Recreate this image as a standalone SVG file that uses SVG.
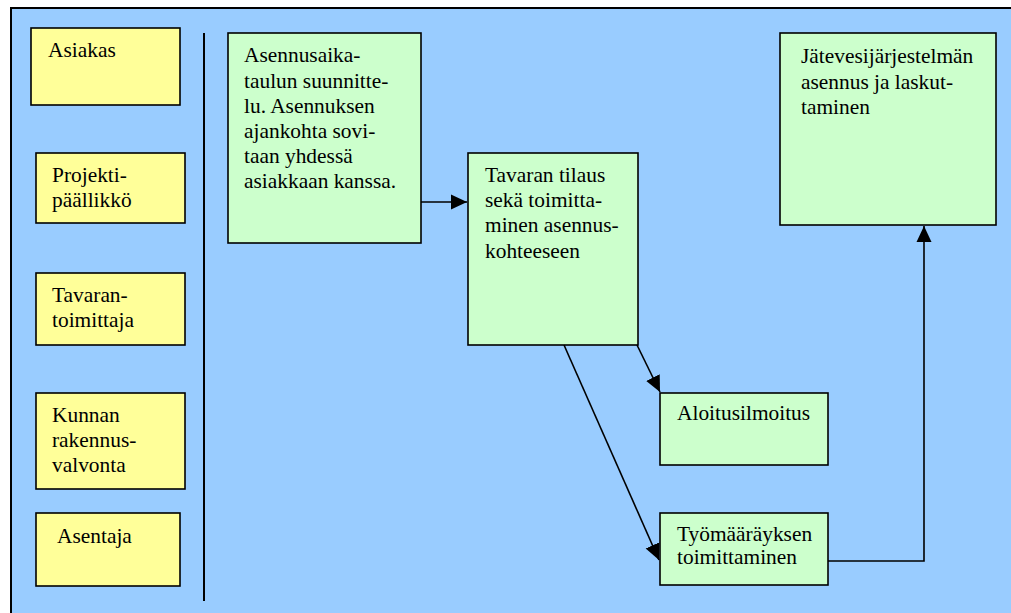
<svg xmlns="http://www.w3.org/2000/svg" width="1011" height="613" viewBox="0 0 1011 613">
  <style>
    .frame { fill: #99ccff; stroke: #000; stroke-width: 2; }
    .role { fill: #ffff99; stroke: #000; stroke-width: 1.6; }
    .task { fill: #ccffcc; stroke: #000; stroke-width: 1.6; }
    .sep { stroke: #000; stroke-width: 2; fill: none; }
    .conn { stroke: #000; stroke-width: 1.6; fill: none; }
    text { font-family: "Liberation Serif", "Times New Roman", serif; font-size: 21.4px; fill: #000; }
  </style>
  <defs>
    <marker id="arrowBig" viewBox="0 0 16 16" refX="16" refY="8" markerWidth="16" markerHeight="16" markerUnits="userSpaceOnUse" orient="auto">
      <path d="M0,0.5 L16,8 L0,15.5 Z" fill="#000"/>
    </marker>
  </defs>

  <rect width="1011" height="613" fill="#fff"/>
  <rect class="frame" x="11" y="8" width="1010" height="620"/>

  <!-- role column -->
  <g id="asiakas">
    <rect class="role" x="31" y="28" width="149" height="77"/>
    <text x="48" y="57">Asiakas</text>
  </g>
  <g id="projektipaallikko">
    <rect class="role" x="36" y="153" width="149" height="70"/>
    <text x="52" y="182">Projekti-</text>
    <text x="52" y="207">päällikkö</text>
  </g>
  <g id="tavarantoimittaja">
    <rect class="role" x="36" y="273" width="149" height="72"/>
    <text x="52" y="302">Tavaran-</text>
    <text x="52" y="327">toimittaja</text>
  </g>
  <g id="rakennusvalvonta">
    <rect class="role" x="36" y="393" width="149" height="96"/>
    <text x="52" y="422">Kunnan</text>
    <text x="52" y="447">rakennus-</text>
    <text x="52" y="472">valvonta</text>
  </g>
  <g id="asentaja">
    <rect class="role" x="36" y="513" width="144" height="73"/>
    <text x="57" y="543">Asentaja</text>
  </g>

  <line class="sep" x1="204" y1="33" x2="204" y2="601"/>

  <!-- process steps -->
  <g id="aikataulu">
    <rect class="task" x="228" y="33" width="193" height="210"/>
    <text x="244" y="62">Asennusaika-</text>
    <text x="244" y="87.5">taulun suunnitte-</text>
    <text x="244" y="112.7">lu. Asennuksen</text>
    <text x="244" y="138">ajankohta sovi-</text>
    <text x="244" y="163.2">taan yhdessä</text>
    <text x="244" y="188.4">asiakkaan kanssa.</text>
  </g>
  <g id="tilaus">
    <rect class="task" x="468" y="153" width="170" height="192"/>
    <text x="485" y="182">Tavaran tilaus</text>
    <text x="485" y="207">sekä toimitta-</text>
    <text x="485" y="232.4">minen asennus-</text>
    <text x="485" y="257.6">kohteeseen</text>
  </g>
  <g id="aloitusilmoitus">
    <rect class="task" x="660" y="393" width="168" height="72"/>
    <text x="677" y="420">Aloitusilmoitus</text>
  </g>
  <g id="tyomaarays">
    <rect class="task" x="660" y="513" width="168" height="72"/>
    <text x="677" y="541">Työmääräyksen</text>
    <text x="677" y="564">toimittaminen</text>
  </g>
  <g id="asennus">
    <rect class="task" x="780" y="33" width="216" height="192"/>
    <text x="801" y="63">Jätevesijärjestelmän</text>
    <text x="801" y="88.5">asennus ja laskut-</text>
    <text x="801" y="114">taminen</text>
  </g>

  <!-- connectors -->
  <g id="connectors">
    <line class="conn" x1="421" y1="202" x2="467" y2="202" marker-end="url(#arrowBig)"/>
    <line class="conn" x1="637" y1="345" x2="660" y2="392" marker-end="url(#arrowBig)"/>
    <line class="conn" x1="564" y1="345" x2="659" y2="560" marker-end="url(#arrowBig)"/>
    <polyline class="conn" points="828,561 924,561 924,226" marker-end="url(#arrowBig)"/>
  </g>
</svg>
